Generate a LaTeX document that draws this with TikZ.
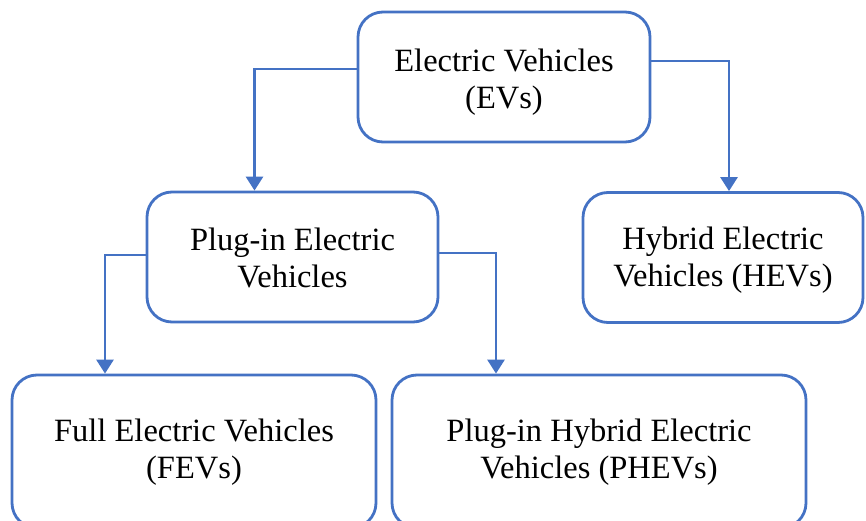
\documentclass[tikz,border=0pt]{standalone}
\usepackage{fontspec}
\setmainfont{Liberation Serif}
\usetikzlibrary{arrows.meta}
\definecolor{evblue}{HTML}{4472C4}
\tikzset{
  box/.style={draw=evblue, line width=2.8pt, rounded corners=25pt, inner sep=0pt},
  label/.style={align=center, inner sep=0pt, font=\fontsize{32.5}{37}\selectfont, text=black},
  conn/.style={draw=evblue, line width=2.8pt, -{Triangle[width=17pt,length=14pt]}}
}
\begin{document}
\begin{tikzpicture}[x=1pt,y=-1pt]
\useasboundingbox (0,0) rectangle (866,521);
\clip (0,0) rectangle (866,521);
\node[box, minimum width=292pt, minimum height=130pt] (ev) at (504,77) {};
\node[box, minimum width=291pt, minimum height=130pt] (pev) at (292.5,257) {};
\node[box, minimum width=280pt, minimum height=130pt] (hev) at (723,257.5) {};
\node[box, minimum width=364pt, minimum height=153pt] (fev) at (194,451.5) {};
\node[box, minimum width=414pt, minimum height=153pt] (phev) at (599,451.5) {};
\node[label] (evt) at ([yshift=-5pt]ev.center) {Electric Vehicles\\(EVs)};
\node[label] (pevt) at ([yshift=-1pt]pev.center) {Plug-in Electric\\Vehicles};
\node[label] (hevt) at ([yshift=-3pt]hev.center) {Hybrid Electric\\Vehicles (HEVs)};
\node[label] (fevt) at ([yshift=-1pt]fev.center) {Full Electric Vehicles\\(FEVs)};
\node[label] (phevt) at ([yshift=-1pt]phev.center) {Plug-in Hybrid Electric\\Vehicles (PHEVs)};
\draw[conn] ([yshift=8pt]ev.west) -| ([xshift=-38pt]pev.north);
\draw[conn] ([yshift=16pt]ev.east) -| ([xshift=6pt]hev.north);
\draw[conn] ([yshift=2pt]pev.west) -| ([xshift=-89pt]fev.north);
\draw[conn] ([yshift=4pt]pev.east) -| ([xshift=-103pt]phev.north);
\end{tikzpicture}
\end{document}
